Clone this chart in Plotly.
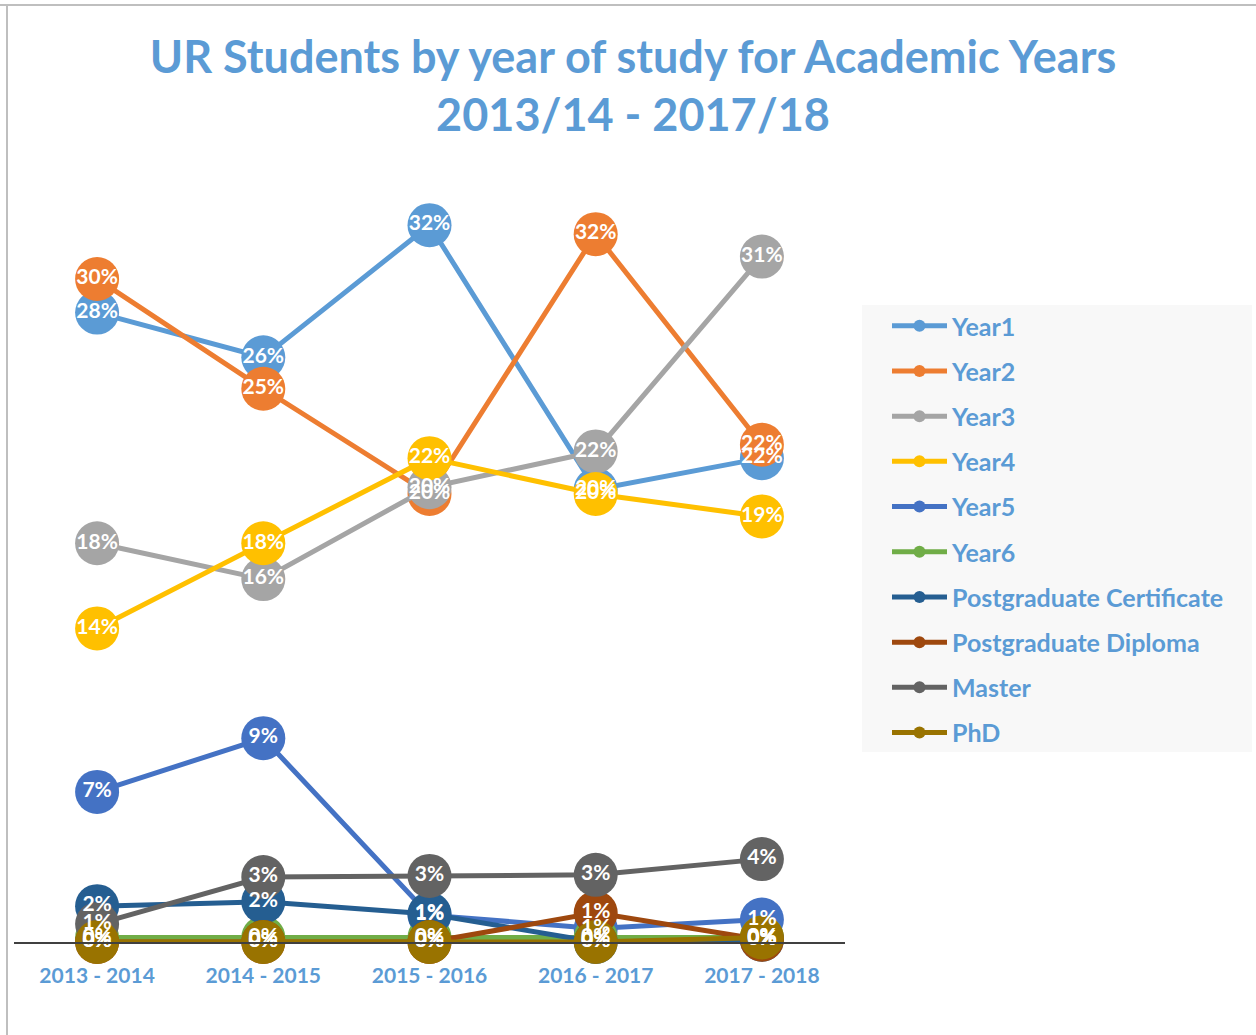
import plotly.graph_objects as go

years = ["2013 - 2014", "2014 - 2015", "2015 - 2016", "2016 - 2017", "2017 - 2018"]

year1 = [28.1, 26.1, 32.0, 20.2, 21.6]
year2 = [29.6, 24.7, 20.0, 31.6, 22.2]
year3 = [17.8, 16.2, 20.3, 21.9, 30.6]
year4 = [14.0, 17.8, 21.6, 20.0, 19.0]
year5 = [6.7, 9.1, 1.2, 0.6, 1.0]
year6 = [0.2, 0.2, 0.2, 0.2, 0.2]
pg_cert = [1.6, 1.8, 1.25, 0.0, 0.1]
pg_dip = [0.0, 0.0, 0.0, 1.3, 0.1]
master = [0.8, 2.9, 2.95, 3.0, 3.7]
phd = [0.0, 0.0, 0.0, 0.0, 0.2]

series_names = ["Year1", "Year2", "Year3", "Year4", "Year5", "Year6",
                "Postgraduate Certificate", "Postgraduate Diploma", "Master", "PhD"]
series_values = [year1, year2, year3, year4, year5, year6, pg_cert, pg_dip, master, phd]
series_colors = ["#5B9BD5", "#ED7D31", "#A5A5A5", "#FFC000", "#4472C4", "#70AD47",
                 "#255E91", "#9E480E", "#636363", "#997300"]

FONT = "Lato"
BLUE = "#5B9BD5"

fig = go.Figure()
# lines + markers
for i, (name, vals, col) in enumerate(zip(series_names, series_values, series_colors)):
    fig.add_trace(go.Scatter(
        x=years, y=vals, name=name, legendgroup=f"g{i}",
        mode="lines+markers",
        line=dict(color=col, width=5),
        marker=dict(color=col, size=44),
        cliponaxis=False,
    ))
# data labels drawn on top of every series
for i, (name, vals) in enumerate(zip(series_names, series_values)):
    fig.add_trace(go.Scatter(
        x=years, y=vals, name=name, legendgroup=f"g{i}", showlegend=False,
        mode="text",
        texttemplate="%{y:.0f}%",
        textposition="middle center",
        textfont=dict(family=FONT, size=21, color="white", weight="bold"),
        cliponaxis=False, hoverinfo="skip",
    ))

W, H = 1256, 1035
ML, MR, MT, MB = 14, 411, 158, 93
pw = W - ML - MR
ph = H - MT - MB

def px_x(x):
    return (x - ML) / pw

def px_y(y):
    return (H - MB - y) / ph

fig.update_layout(
    width=W, height=H, autosize=False,
    margin=dict(l=ML, r=MR, t=MT, b=MB, pad=0),
    paper_bgcolor="white", plot_bgcolor="white",
    title=dict(
        text="UR Students by year of study for Academic Years<br>2013/14 - 2017/18",
        font=dict(family=FONT, size=45, color=BLUE, weight="bold"),
        x=633 / W, xref="container", xanchor="center",
        y=1 - 72.5 / H, yref="container", yanchor="middle",
    ),
    showlegend=True,
    legend=dict(
        x=px_x(887), y=px_y(303), xanchor="left", yanchor="top",
        bgcolor="rgba(0,0,0,0)", borderwidth=0,
        font=dict(family=FONT, size=25, color=BLUE, weight="bold"),
        tracegroupgap=9.7, itemwidth=55, itemsizing="constant",
        traceorder="grouped",
    ),
    xaxis=dict(
        type="category", range=[-0.5, 4.5],
        showgrid=False, zeroline=False,
        showline=True, linecolor="#404040", linewidth=2,
        ticks="", ticklabelstandoff=14,
        tickfont=dict(family=FONT, size=21, color=BLUE, weight="bold"),
        fixedrange=True,
    ),
    yaxis=dict(
        range=[0, 35], visible=False, showgrid=False, zeroline=False,
        fixedrange=True,
    ),
    shapes=[
        dict(type="rect", xref="paper", yref="paper", layer="below",
             x0=px_x(862), x1=px_x(1252), y0=px_y(305), y1=px_y(752),
             fillcolor="#F8F8F8", line=dict(width=0)),
        dict(type="line", xref="paper", yref="paper",
             x0=px_x(0), x1=px_x(W), y0=px_y(5), y1=px_y(5),
             line=dict(color="#BFBFBF", width=2)),
        dict(type="line", xref="paper", yref="paper",
             x0=px_x(7), x1=px_x(7), y0=px_y(5), y1=px_y(H),
             line=dict(color="#BFBFBF", width=2)),
    ],
)

fig.write_html(
    "out.html",
    config={"displayModeBar": False},
    post_script="document.body.style.margin='0px';document.body.style.overflow='hidden';",
)
